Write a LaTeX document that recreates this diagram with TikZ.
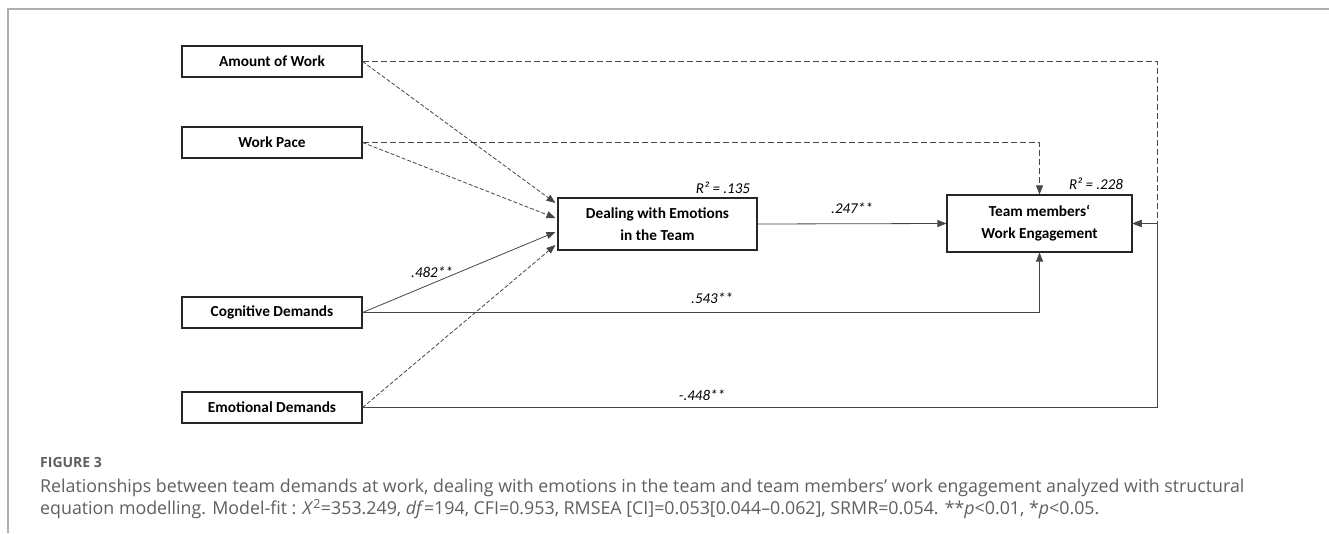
\documentclass[tikz,border=0pt]{standalone}
\usepackage{fontspec}
\setmainfont{Carlito}
\newfontfamily\capfont{Open Sans}
\usetikzlibrary{arrows.meta,calc}
\definecolor{capgray}{RGB}{95,95,95}
\definecolor{framegray}{RGB}{175,175,175}
\definecolor{linegray}{RGB}{70,70,70}
\begin{document}
\begin{tikzpicture}[x=1pt,y=-1pt,
  varbox/.style={draw=black!85,line width=1.1pt,fill=white,inner sep=0pt,align=center,
    font=\fontsize{15.3}{22}\selectfont\bfseries},
  conn/.style={draw=linegray,line width=0.8pt},
  dashA/.style={conn,dash pattern=on 4pt off 2pt},
  dashB/.style={conn,dash pattern=on 6pt off 3pt},
  tip/.style={-{Triangle[length=9pt,width=7pt]}},
  lbl/.style={font=\fontsize{15}{18}\selectfont\itshape,inner sep=0pt},
  captxt/.style={anchor=base west,inner sep=0pt,text=capgray}
]
\useasboundingbox (0,0) rectangle (1329,533);
\draw[framegray,line width=2pt] (8,533) -- (8,9) -- (1329,9);

\node[varbox,minimum width=180pt,minimum height=31pt] (amount) at (272,61.5) {Amount of Work};
\node[varbox,minimum width=180pt,minimum height=31pt] (pace) at (272,142.5) {Work Pace};
\node[varbox,minimum width=180pt,minimum height=31pt] (cog) at (272,312.5) {Cognitive Demands};
\node[varbox,minimum width=180pt,minimum height=31pt] (emo) at (272,407.5) {Emotional Demands};
\node[varbox,minimum width=199pt,minimum height=52pt] (deal) at (657.5,224) {Dealing with Emotions\\in the Team};
\node[varbox,minimum width=185pt,minimum height=57pt] (team) at (1039.5,223.5) {Team members‘\\Work Engagement};

\coordinate (rr) at ($(team.east)+(25,0)$);

% paths to Dealing
\draw[dashA,tip] (amount.east) -- ($(deal.west)+(-2,-21)$);
\draw[dashA,tip] (pace.east) -- ($(deal.west)+(-2,-6)$);
\draw[conn,tip] (cog.east) -- node[lbl,pos=0.36,above=6pt] {.482**} ($(deal.west)+(-2,8)$);
\draw[dashA,tip] (emo.east) -- ($(deal.west)+(-2,21)$);

% paths to Team
\draw[conn,tip] (deal.east) -- node[lbl,above=10pt] {.247**} (team.west);
\draw[dashB,tip] (pace.east) -| (team.north);
\draw[conn,tip] (cog.east) -| (team.south);
\draw[dashB,tip] (amount.east) -| (rr) -- (team.east);
\draw[conn,tip] (emo.east) -| (rr) -- (team.east);

% labels
\node[lbl] (l543) at (712,298) {.543**};
\node[lbl] (l448) at (702,395) {-.448**};
\node[lbl] (r1) at (723,188) {R² = .135};
\node[lbl] (r2) at (1096,184) {R² = .228};

% caption
\node[captxt,font=\capfont\fontsize{14}{16}\selectfont\bfseries] (fig) at (40,467) {FIGURE 3};
\node[captxt,font=\capfont\fontsize{17.8}{20}\selectfont] (cap1) at (40,492.5) {Relationships between team demands at work, dealing with emotions in the team and team members’ work engagement analyzed with structural};
\node[captxt,font=\capfont\fontsize{17.8}{20}\selectfont] (cap2) at (40,514.5) {equation modelling. Model-fit : \textit{X}\textsuperscript{2}=353.249, \textit{df}=194, CFI=0.953, RMSEA [CI]=0.053[0.044–0.062], SRMR=0.054. **\textit{p}<0.01, *\textit{p}<0.05.};
\end{tikzpicture}
\end{document}
